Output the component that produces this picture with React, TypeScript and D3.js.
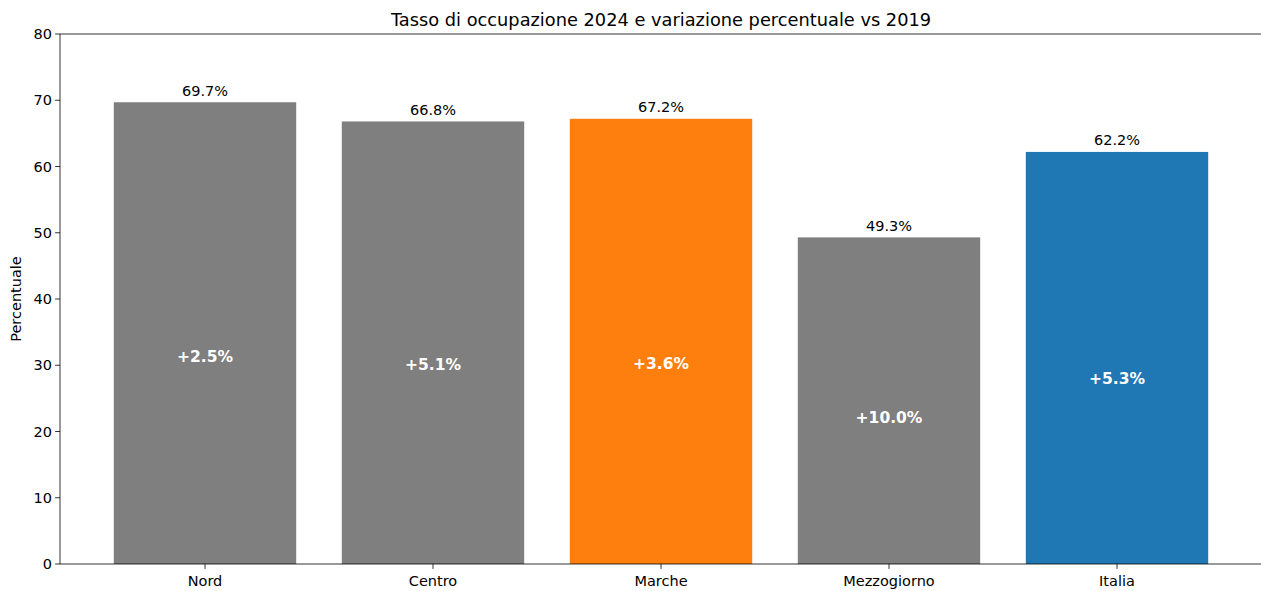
import React from "react";
import * as d3 from "d3";

const categories = ["Nord", "Centro", "Marche", "Mezzogiorno", "Italia"];
const rates2024 = [69.7, 66.8, 67.2, 49.3, 62.2];
const changesVs2019 = [2.5, 5.1, 3.6, 10.0, 5.3];
const barColors = ["#7f7f7f", "#7f7f7f", "#ff7f0e", "#7f7f7f", "#1f77b4"];
const yTicks = [0, 10, 20, 30, 40, 50, 60, 70, 80];

const W = 1261;
const H = 591;
const FONT = "DejaVu Sans, sans-serif";

export default function App() {
  const left = 60, top = 34, bottom = 564;
  const step = 228;
  const x0 = 205 - 0.64 * step;
  const x1 = x0 + 5.28 * step;
  const x = d3.scaleLinear().domain([-0.64, 4.64]).range([x0, x1]);
  const y = d3.scaleLinear().domain([0, 80]).range([bottom, top]);
  const bw = 0.8;

  return (
    <svg width={W} height={H} style={{ position: "absolute", left: 0, top: 0, background: "#fff" }} fontFamily={FONT}>
      <rect x={0} y={0} width={W} height={H} fill="#fff" />
      <text x={661} y={25.5} textAnchor="middle" fontSize={17.8} fill="#000">
        Tasso di occupazione 2024 e variazione percentuale vs 2019
      </text>
      {categories.map((c, i) => {
        const v = rates2024[i];
        const bx = x(i - bw / 2);
        const bwPx = x(i + bw / 2) - bx;
        return (
          <g key={c}>
            <rect x={bx} y={y(v)} width={bwPx} height={y(0) - y(v)} fill={barColors[i]} />
            <text x={x(i)} y={y(v + 0.5)} dy={-3.3} textAnchor="middle" fontSize={14.5} fill="#000">
              {v.toFixed(1)}%
            </text>
            <text
              x={x(i)}
              y={y(v * 0.45)}
              dy="0.36em"
              textAnchor="middle"
              fontSize={15.5}
              fontWeight="bold"
              fill="#fff"
            >
              {"+" + changesVs2019[i].toFixed(1) + "%"}
            </text>
            <line x1={x(i)} x2={x(i)} y1={bottom} y2={bottom + 4.9} stroke="#000" strokeWidth={0.8} />
            <text x={x(i)} y={bottom + 22} textAnchor="middle" fontSize={14.5} fill="#000">
              {c}
            </text>
          </g>
        );
      })}
      {yTicks.map((t) => (
        <g key={t}>
          <line x1={left - 4.9} x2={left} y1={y(t)} y2={y(t)} stroke="#000" strokeWidth={0.8} />
          <text x={left - 8} y={y(t)} dy="0.36em" textAnchor="end" fontSize={14.5} fill="#000">
            {t}
          </text>
        </g>
      ))}
      <line x1={left} x2={left} y1={top} y2={bottom} stroke="#000" strokeWidth={0.8} />
      <line x1={left} x2={x1} y1={bottom} y2={bottom} stroke="#000" strokeWidth={0.8} />
      <line x1={left} x2={x1} y1={top} y2={top} stroke="#000" strokeWidth={0.8} />
      <text transform={`translate(21,${(top + bottom) / 2}) rotate(-90)`} textAnchor="middle" fontSize={14.5} fill="#000">
        Percentuale
      </text>
    </svg>
  );
}
